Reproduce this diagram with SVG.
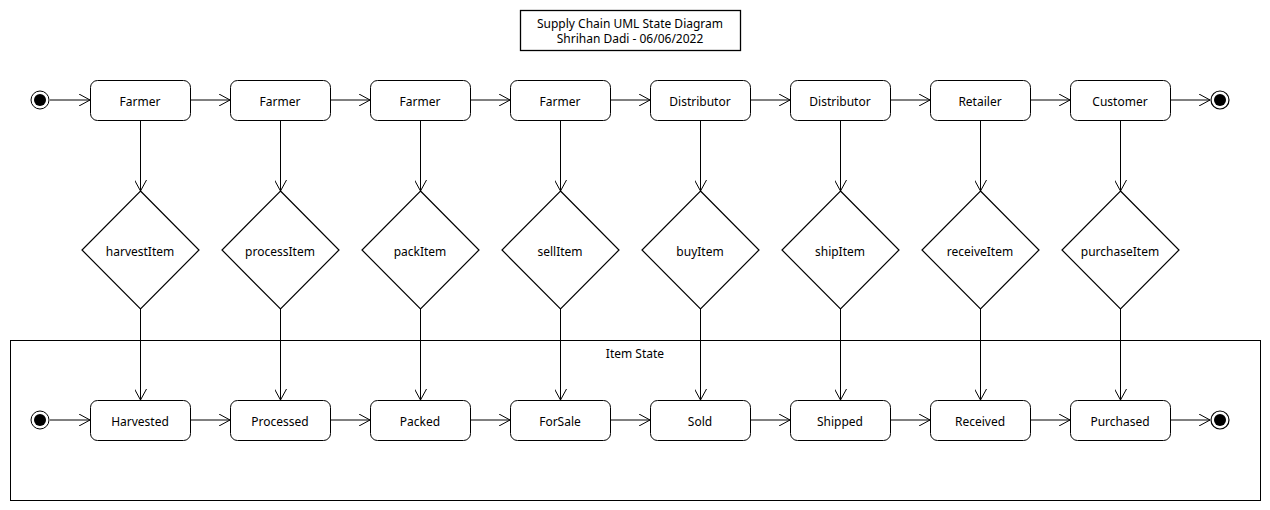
<svg xmlns="http://www.w3.org/2000/svg" width="1270" height="510" viewBox="0 0 1270 510">
<defs>
<style>
text{font-family:"Noto Sans","Open Sans",sans-serif;font-size:12px;fill:#000;text-anchor:middle;dominant-baseline:central}
.st{fill:#fff;stroke:#000;stroke-width:1}
.dm{fill:#fff;stroke:#000;stroke-width:1.2}
.ln{fill:none;stroke:#000;stroke-width:1;marker-end:url(#ar)}
.fr{fill:none;stroke:#000;stroke-width:1}
</style>
<marker id="ar" viewBox="0 0 12 12" refX="11" refY="6" markerWidth="12" markerHeight="12" markerUnits="userSpaceOnUse" orient="auto">
<path d="M0,0 L11,6 L0,12" fill="none" stroke="#000" stroke-width="1"/>
</marker>
<g id="st-shape"><rect x="-50" y="-20" width="100" height="40" rx="7" class="st"/></g>
<g id="init"><circle r="9" fill="#fff" stroke="#000"/><circle r="6" fill="#000"/></g>
<g id="fin"><circle r="9" fill="#fff" stroke="#000" stroke-width="1.2"/><circle r="6" fill="#000"/></g>
</defs>
<rect width="1270" height="510" fill="#fff"/>
<g id="title"><rect x="520.5" y="10.5" width="220" height="40" fill="#fff" stroke="#000" stroke-width="1.3"/><text x="630" y="23.5">Supply Chain UML State Diagram</text><text x="630" y="38">Shrihan Dadi - 06/06/2022</text></g>
<g id="item-state"><rect x="10.5" y="340.5" width="1250" height="160" class="fr"/><text x="635" y="353">Item State</text></g>
<g id="connectors">
<line x1="50" y1="100" x2="90" y2="100" class="ln"/>
<line x1="190" y1="100" x2="230" y2="100" class="ln"/>
<line x1="330" y1="100" x2="370" y2="100" class="ln"/>
<line x1="470" y1="100" x2="510" y2="100" class="ln"/>
<line x1="610" y1="100" x2="650" y2="100" class="ln"/>
<line x1="750" y1="100" x2="790" y2="100" class="ln"/>
<line x1="890" y1="100" x2="930" y2="100" class="ln"/>
<line x1="1030" y1="100" x2="1070" y2="100" class="ln"/>
<line x1="1170" y1="100" x2="1210" y2="100" class="ln"/>
<line x1="50" y1="420" x2="90" y2="420" class="ln"/>
<line x1="190" y1="420" x2="230" y2="420" class="ln"/>
<line x1="330" y1="420" x2="370" y2="420" class="ln"/>
<line x1="470" y1="420" x2="510" y2="420" class="ln"/>
<line x1="610" y1="420" x2="650" y2="420" class="ln"/>
<line x1="750" y1="420" x2="790" y2="420" class="ln"/>
<line x1="890" y1="420" x2="930" y2="420" class="ln"/>
<line x1="1030" y1="420" x2="1070" y2="420" class="ln"/>
<line x1="1170" y1="420" x2="1210" y2="420" class="ln"/>
<line x1="140.5" y1="120" x2="140.5" y2="191" class="ln"/>
<line x1="280.5" y1="120" x2="280.5" y2="191" class="ln"/>
<line x1="420.5" y1="120" x2="420.5" y2="191" class="ln"/>
<line x1="560.5" y1="120" x2="560.5" y2="191" class="ln"/>
<line x1="700.5" y1="120" x2="700.5" y2="191" class="ln"/>
<line x1="840.5" y1="120" x2="840.5" y2="191" class="ln"/>
<line x1="980.5" y1="120" x2="980.5" y2="191" class="ln"/>
<line x1="1120.5" y1="120" x2="1120.5" y2="191" class="ln"/>
<line x1="140.5" y1="309" x2="140.5" y2="400" class="ln"/>
<line x1="280.5" y1="309" x2="280.5" y2="400" class="ln"/>
<line x1="420.5" y1="309" x2="420.5" y2="400" class="ln"/>
<line x1="560.5" y1="309" x2="560.5" y2="400" class="ln"/>
<line x1="700.5" y1="309" x2="700.5" y2="400" class="ln"/>
<line x1="840.5" y1="309" x2="840.5" y2="400" class="ln"/>
<line x1="980.5" y1="309" x2="980.5" y2="400" class="ln"/>
<line x1="1120.5" y1="309" x2="1120.5" y2="400" class="ln"/>
</g>
<g id="start1"><use href="#init" x="40" y="100"/></g>
<g id="end1"><use href="#fin" x="1220" y="100"/></g>
<g id="start2"><use href="#init" x="40" y="420"/></g>
<g id="end2"><use href="#fin" x="1220" y="420"/></g>
<g id="farmer1"><use href="#st-shape" x="140.5" y="100.5"/><text x="140" y="101">Farmer</text></g>
<g id="farmer2"><use href="#st-shape" x="280.5" y="100.5"/><text x="280" y="101">Farmer</text></g>
<g id="farmer3"><use href="#st-shape" x="420.5" y="100.5"/><text x="420" y="101">Farmer</text></g>
<g id="farmer4"><use href="#st-shape" x="560.5" y="100.5"/><text x="560" y="101">Farmer</text></g>
<g id="distributor1"><use href="#st-shape" x="700.5" y="100.5"/><text x="700" y="101">Distributor</text></g>
<g id="distributor2"><use href="#st-shape" x="840.5" y="100.5"/><text x="840" y="101">Distributor</text></g>
<g id="retailer"><use href="#st-shape" x="980.5" y="100.5"/><text x="980" y="101">Retailer</text></g>
<g id="customer"><use href="#st-shape" x="1120.5" y="100.5"/><text x="1120" y="101">Customer</text></g>
<g id="harvestItem"><path d="M140.5,191 L199,250 L140.5,309 L82,250 Z" class="dm"/><text x="140" y="251">harvestItem</text></g>
<g id="processItem"><path d="M280.5,191 L339,250 L280.5,309 L222,250 Z" class="dm"/><text x="280" y="251">processItem</text></g>
<g id="packItem"><path d="M420.5,191 L479,250 L420.5,309 L362,250 Z" class="dm"/><text x="420" y="251">packItem</text></g>
<g id="sellItem"><path d="M560.5,191 L619,250 L560.5,309 L502,250 Z" class="dm"/><text x="560" y="251">sellItem</text></g>
<g id="buyItem"><path d="M700.5,191 L759,250 L700.5,309 L642,250 Z" class="dm"/><text x="700" y="251">buyItem</text></g>
<g id="shipItem"><path d="M840.5,191 L899,250 L840.5,309 L782,250 Z" class="dm"/><text x="840" y="251">shipItem</text></g>
<g id="receiveItem"><path d="M980.5,191 L1039,250 L980.5,309 L922,250 Z" class="dm"/><text x="980" y="251">receiveItem</text></g>
<g id="purchaseItem"><path d="M1120.5,191 L1179,250 L1120.5,309 L1062,250 Z" class="dm"/><text x="1120" y="251">purchaseItem</text></g>
<g id="harvested"><use href="#st-shape" x="140.5" y="420.5"/><text x="140" y="421">Harvested</text></g>
<g id="processed"><use href="#st-shape" x="280.5" y="420.5"/><text x="280" y="421">Processed</text></g>
<g id="packed"><use href="#st-shape" x="420.5" y="420.5"/><text x="420" y="421">Packed</text></g>
<g id="forsale"><use href="#st-shape" x="560.5" y="420.5"/><text x="560" y="421">ForSale</text></g>
<g id="sold"><use href="#st-shape" x="700.5" y="420.5"/><text x="700" y="421">Sold</text></g>
<g id="shipped"><use href="#st-shape" x="840.5" y="420.5"/><text x="840" y="421">Shipped</text></g>
<g id="received"><use href="#st-shape" x="980.5" y="420.5"/><text x="980" y="421">Received</text></g>
<g id="purchased"><use href="#st-shape" x="1120.5" y="420.5"/><text x="1120" y="421">Purchased</text></g>
</svg>
